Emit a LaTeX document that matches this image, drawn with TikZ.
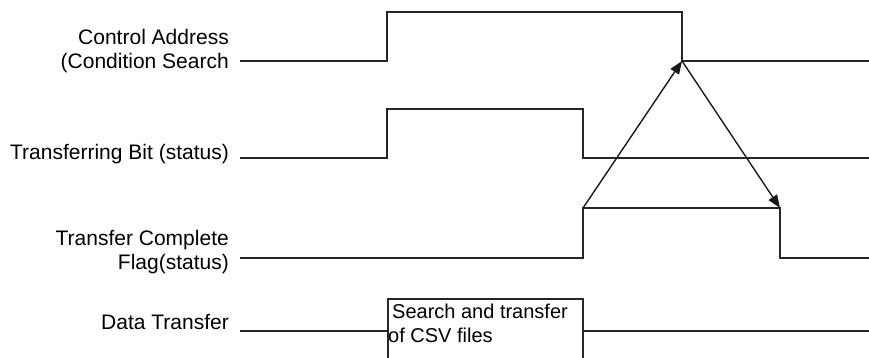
\documentclass[tikz,border=0pt]{standalone}
\usepackage{fontspec}
\setmainfont{Liberation Sans}
\usetikzlibrary{arrows.meta}
\begin{document}
\begin{tikzpicture}[x=1pt,y=-1pt,
  sig/.style={line width=1.7pt, line join=miter, black!85},
  lbl/.style={font=\fontsize{21}{24}\selectfont, align=right, inner sep=0pt, anchor=base east},
  boxtxt/.style={font=\fontsize{20}{24}\selectfont, align=left, inner sep=0pt, anchor=base west},
  arr/.style={line width=1.4pt, black!90, -{Triangle[length=13pt,width=10pt]}}]
\useasboundingbox (0,0) rectangle (869,357);
\clip (0,0) rectangle (869,357);

% labels (base anchor = baseline of last line)
\node[lbl] (lca) at (229,68) {Control Address\\(Condition Search};
\node[lbl] (ltb) at (229,159.5) {Transferring Bit (status)};
\node[lbl] (ltc) at (229,269) {Transfer Complete\\Flag(status)};
\node[lbl] (ldt) at (229,329) {Data Transfer};

% corner coordinates
\coordinate (caFall) at (682,61);
\coordinate (tcRise) at (583,208);
\coordinate (tcFall) at (780,208);

% waveforms
\draw[sig] (240,61) -- (387,61) -- (387,12) -- (682,12) -- (caFall) -- (869,61);
\draw[sig] (240,158) -- (387,158) -- (387,109) -- (583,109) -- (583,158) -- (869,158);
\draw[sig] (240,258) -- (583,258) -- (tcRise) -- (tcFall) -- (780,258) -- (869,258);

% data transfer
\node[draw, sig, anchor=north west, minimum width=195pt, minimum height=80pt, inner sep=0pt] (box) at (387,298) {};
\node[boxtxt] (btxt) at (388,342) {\hspace{4pt}Search and transfer\\of CSV files};
\draw[sig] (240,331) -- (box.west |- 0,331);
\draw[sig] (box.east |- 0,331) -- (869,331);

% arrows
\draw[arr] (tcRise) -- (caFall);
\draw[arr] (caFall) -- (tcFall);
\end{tikzpicture}
\end{document}
